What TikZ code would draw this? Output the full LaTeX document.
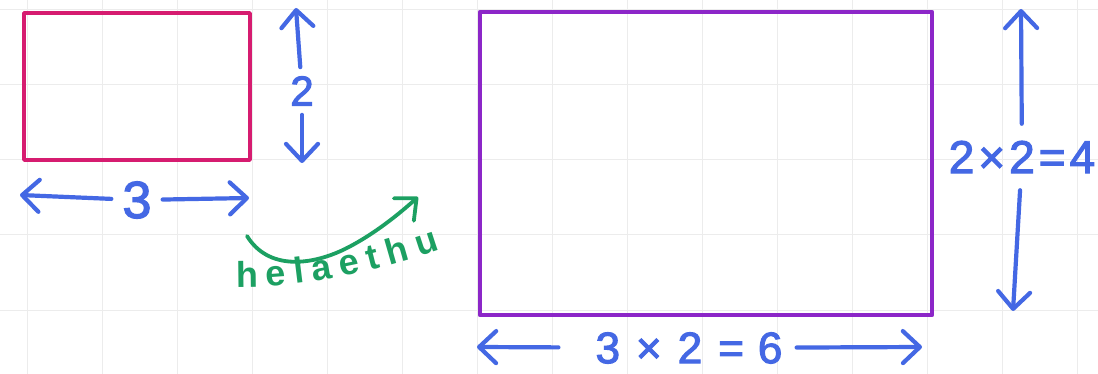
\documentclass[tikz,border=0pt]{standalone}
\usepackage{fontspec}
\newfontfamily\hand[FakeBold=2.5]{Liberation Sans}
\newfontfamily\handb{Liberation Sans Bold}
\usetikzlibrary{arrows.meta,decorations.text}
\definecolor{gridc}{RGB}{236,236,236}
\definecolor{pinkc}{RGB}{214,28,112}
\definecolor{purplec}{RGB}{140,38,200}
\definecolor{bluec}{RGB}{68,104,228}
\definecolor{greenc}{RGB}{28,160,98}
\begin{document}
\begin{tikzpicture}[x=1pt,y=-1pt,
  gridline/.style={gridc, line width=1pt},
  bluearrow/.style={bluec, line width=4.2pt, line cap=round, line join=round,
    -{Straight Barb[length=17pt,width=32pt,round]}},
  greenarrow/.style={greenc, line width=3.8pt, line cap=round, line join=round,
    -{Straight Barb[length=17pt,width=30pt,round]}},
  lbl/.style={font=\hand\fontsize{#1}{#1}\selectfont, text=bluec, inner sep=0pt},
  rectbox/.style={inner sep=0pt, line join=round}
]
\fill[white] (0,0) rectangle (1098,374);
\useasboundingbox (0,0) rectangle (1098,374);
% grid paper
\foreach \x in {27,102,...,1077} \draw[gridline] (\x,0) -- (\x,374);
\foreach \y in {10,85,...,310} \draw[gridline] (0,\y) -- (1098,\y);
% rectangles
\node[rectbox, draw=pinkc, line width=3.8pt, minimum width=226pt, minimum height=147pt] (small) at (137,86.5) {};
\node[rectbox, draw=purplec, line width=4.2pt, minimum width=452pt, minimum height=303pt] (big) at (706,163.5) {};
% small: height 2
\node[lbl=42, inner xsep=6pt, inner ysep=9pt] (two) at (302,91) {2};
\coordinate (twoU) at (296,8);
\coordinate (twoD) at (302,163);
\draw[bluearrow] (two) -- (twoU);
\draw[bluearrow] (two) -- (twoD);
% small: width 3
\node[lbl=52, inner xsep=11pt] (three) at (137,200) {3};
\coordinate (threeL) at (20,195);
\coordinate (threeR) at (249,198);
\draw[bluearrow] (three) -- (threeL);
\draw[bluearrow] (three) -- (threeR);
% big: width 3x2=6
\node[lbl=44, inner xsep=14pt] (six) at (689,348) {3\hspace{16pt}×\hspace{16pt}2\hspace{16pt}=\hspace{14pt}6};
\coordinate (sixL) at (477,347);
\coordinate (sixR) at (922,347);
\draw[bluearrow, shorten <=23pt] (six) -- (sixL);
\draw[bluearrow] (six) -- (sixR);
% big: height 2x2=4
\node[lbl=46, inner ysep=17pt] (four) at (1022,157) {2\hspace{4pt}×\hspace{4pt}2\hspace{4pt}=\hspace{4pt}4};
\coordinate (fourU) at (1021,9);
\coordinate (fourD) at (1013,311);
\draw[bluearrow] (four) -- (fourU);
\draw[bluearrow] (four) -- (fourD);
% green enlarge arrow
\coordinate (gS) at (247,236);
\coordinate (gE) at (418,197);
\draw[greenarrow] (gS) .. controls (268,270) and (310,266) .. (345,249) .. controls (375,234) and (400,213) .. (gE);
\path[decorate, decoration={text along path,
  text={|\handb\fontsize{36}{36}\selectfont\color{greenc}|helaethu},
  text align={fit to path}}]
  (236,287) .. controls (300,288) and (370,274) .. (440,250);
\end{tikzpicture}
\end{document}
